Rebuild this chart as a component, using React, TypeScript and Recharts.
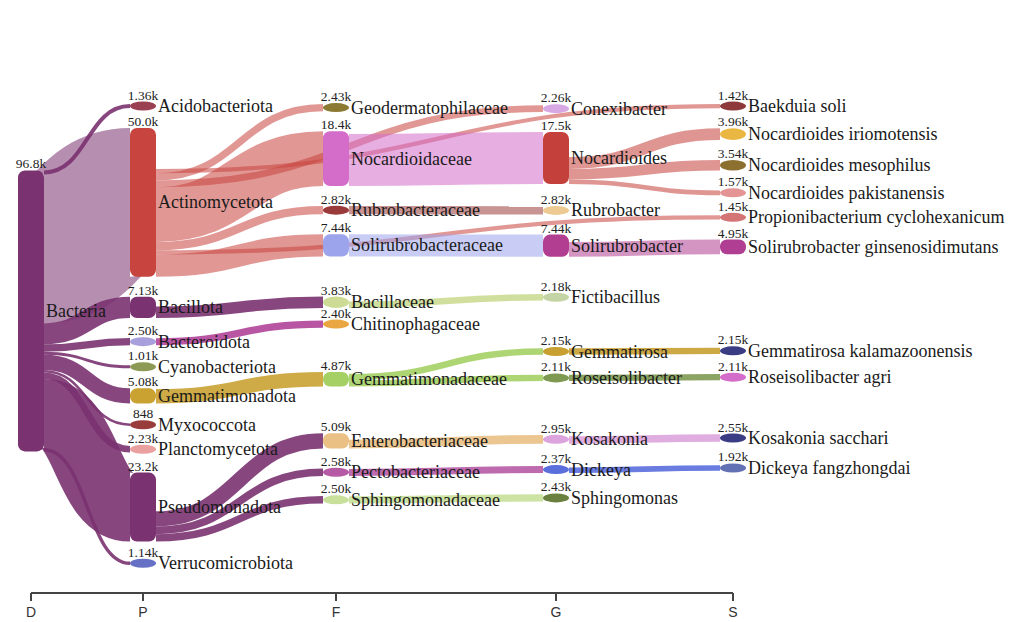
import React from "react";
import { Sankey } from "recharts";

// taxonomy nodes, values in thousands of reads
const nodeNames = [
  "Bacteria",
  "Acidobacteriota", "Actinomycetota", "Bacillota", "Bacteroidota", "Cyanobacteriota",
  "Gemmatimonadota", "Myxococcota", "Planctomycetota", "Pseudomonadota", "Verrucomicrobiota",
  "Geodermatophilaceae", "Nocardioidaceae", "Rubrobacteraceae", "Solirubrobacteraceae", "Bacillaceae",
  "Chitinophagaceae", "Gemmatimonadaceae", "Enterobacteriaceae", "Pectobacteriaceae", "Sphingomonadaceae",
  "Conexibacter", "Nocardioides", "Rubrobacter", "Solirubrobacter", "Fictibacillus",
  "Gemmatirosa", "Roseisolibacter", "Kosakonia", "Dickeya", "Sphingomonas",
  "Baekduia soli", "Nocardioides iriomotensis", "Nocardioides mesophilus", "Nocardioides pakistanensis",
  "Propionibacterium cyclohexanicum", "Solirubrobacter ginsenosidimutans", "Gemmatirosa kalamazoonensis",
  "Roseisolibacter agri", "Kosakonia sacchari", "Dickeya fangzhongdai",
];

const nodeRanks = [
  "D",
  "P", "P", "P", "P", "P", "P", "P", "P", "P", "P",
  "F", "F", "F", "F", "F", "F", "F", "F", "F", "F",
  "G", "G", "G", "G", "G", "G", "G", "G", "G", "G",
  "S", "S", "S", "S", "S", "S", "S", "S", "S", "S",
];

const nodeValues = [
  96.8,
  1.36, 50.0, 7.13, 2.5, 1.01, 5.08, 0.848, 2.23, 23.2, 1.14,
  2.43, 18.4, 2.82, 7.44, 3.83, 2.4, 4.87, 5.09, 2.58, 2.5,
  2.26, 17.5, 2.82, 7.44, 2.18, 2.15, 2.11, 2.95, 2.37, 2.43,
  1.42, 3.96, 3.54, 1.57, 1.45, 4.95, 2.15, 2.11, 2.55, 1.92,
];

// each link carries the value of its target node
const linkSources = [
  0, 0, 0, 0, 0, 0, 0, 0, 0, 0,
  2, 2, 2, 2, 2, 2, 2,
  3, 4, 6, 9, 9, 9,
  12, 13, 14, 15, 17, 17, 18, 19, 20,
  22, 22, 22, 24, 26, 27, 28, 29,
];
const linkTargets = [
  1, 2, 3, 4, 5, 6, 7, 8, 9, 10,
  21, 11, 12, 13, 14, 31, 35,
  15, 16, 17, 18, 19, 20,
  22, 23, 24, 25, 26, 27, 28, 29, 30,
  32, 33, 34, 36, 37, 38, 39, 40,
];

// layout helpers only: invisible hair-thin links that keep some end nodes in their own column,
// and the top-to-bottom reading order of the nodes
const spacerSources = [1, 5, 7, 8, 10, 11, 11, 21, 23];
const spacerTargets = [31, 37, 38, 39, 40, 31, 21, 31, 35];
const stackOrder = [
  31, 21, 1, 32, 11, 33, 22, 34, 12, 35, 2, 23, 13, 24, 36, 14, 25, 15, 3, 0,
  16, 4, 5, 26, 37, 17, 6, 27, 38, 7, 8, 18, 28, 39, 9, 19, 29, 40, 20, 30, 10,
];

const rankLabels = ["D", "P", "F", "G", "S"];

const nodeColors = [
  "#7a3270",
  "#9a4050", "#c8443e", "#7a3270", "#a8a0dc", "#8d9a55", "#c9a232", "#983c3c", "#eba0a0", "#7a3270", "#6670c4",
  "#8c7a32", "#d46cc9", "#9a3a3a", "#9ca4ec", "#ccdc94", "#eaa640", "#a4d064", "#eac084", "#b65aa6", "#c8e09a",
  "#d8a8e4", "#c4403a", "#ecca92", "#b23e92", "#c4d4a4", "#c8a032", "#7e9a52", "#dca4dc", "#5a6edc", "#6a803e",
  "#8e3a3a", "#eab842", "#8c7030", "#e49494", "#d47474", "#b03e92", "#3a3c84", "#d46cc9", "#3a3c84", "#6270b4",
];

const lightSources = ["Actinomycetota", "Nocardioidaceae", "Nocardioides", "Rubrobacteraceae", "Solirubrobacteraceae", "Solirubrobacter"];
const linkColorOverride: Record<string, string> = { Bacteroidota: "#b0449a" };

const COL_X = [18, 130, 323, 543, 720];
const NODE_W = 26;
const TOP = 104;
const INNER_H = 461;
// the layout is computed bottom-up and mirrored, so children spread upward from their parent
const MIRROR = 2 * TOP + INNER_H;
const SERIF = "'Liberation Serif', 'Times New Roman', serif";

const order = [...stackOrder].reverse();
const pos: number[] = [];
order.forEach((nodeIdx, k) => (pos[nodeIdx] = k));

const data = {
  nodes: order.map((i) => ({ name: nodeNames[i], rank: nodeRanks[i], total: nodeValues[i], fill: nodeColors[i] })),
  links: [
    ...linkSources.map((s, i) => ({ source: pos[s], target: pos[linkTargets[i]], value: nodeValues[linkTargets[i]] })),
    ...spacerSources.map((s, i) => ({ source: pos[s], target: pos[spacerTargets[i]], value: 0.0001, spacer: true })),
  ],
};

const fmt = (v: number) => (v >= 1 ? v.toPrecision(3) + "k" : String(Math.round(v * 1000)));
const colOf = (rank: string) => COL_X[rankLabels.indexOf(rank)];

function NodeShape(props: any) {
  const { y: yRaw, height, payload } = props;
  if (!payload) return null;
  const y = MIRROR - yRaw - height;
  const x = colOf(payload.rank);
  const cx = x + NODE_W / 2;
  const cy = y + height / 2;
  const small = height < 14;
  const ry = Math.max(height / 2, 4.5);
  const top = small ? cy - ry : y;
  return (
    <g>
      {small ? (
        <ellipse cx={cx} cy={cy} rx={NODE_W / 2} ry={ry} fill={payload.fill} />
      ) : (
        <rect x={x} y={y} width={NODE_W} height={height} rx={7} ry={7} fill={payload.fill} />
      )}
      <text x={cx} y={top - 2} textAnchor="middle" fontSize={13.5} fill="#222" fontFamily={SERIF}>
        {fmt(payload.total)}
      </text>
      <text x={x + NODE_W + 2} y={cy + 6} fontSize={18} fill="#1a1a1a" fontFamily={SERIF}>
        {payload.name}
      </text>
    </g>
  );
}

function LinkShape(props: any) {
  const { sourceY, targetY, linkWidth, payload } = props;
  if (!payload || payload.spacer) return null;
  const s = payload.source;
  const t = payload.target;
  const x0 = colOf(s.rank) + NODE_W;
  const x1 = colOf(t.rank);
  const xm = (x0 + x1) / 2;
  const y0 = MIRROR - sourceY;
  const y1 = MIRROR - targetY;
  const light = lightSources.includes(s.name) || t.name === "Actinomycetota";
  return (
    <path
      d={`M${x0},${y0}C${xm},${y0} ${xm},${y1} ${x1},${y1}`}
      fill="none"
      stroke={linkColorOverride[s.name] || s.fill}
      strokeOpacity={light ? 0.55 : 0.9}
      strokeWidth={Math.max(linkWidth, 1.5)}
    />
  );
}

function RankAxis() {
  const y = 593;
  const x0 = COL_X[0] + NODE_W / 2;
  const x1 = COL_X[COL_X.length - 1] + NODE_W / 2;
  return (
    <svg width={1030} height={622} style={{ position: "absolute", left: 0, top: 0, pointerEvents: "none" }}>
      <line x1={x0} y1={y} x2={x1} y2={y} stroke="#444" strokeWidth={2} />
      {rankLabels.map((r, i) => (
        <g key={r}>
          <line x1={COL_X[i] + NODE_W / 2} y1={y} x2={COL_X[i] + NODE_W / 2} y2={y + 8} stroke="#444" strokeWidth={2} />
          <text x={COL_X[i] + NODE_W / 2} y={y + 24} textAnchor="middle" fontSize={14} fill="#333" fontFamily="'Liberation Sans', Arial, sans-serif">
            {r}
          </text>
        </g>
      ))}
    </svg>
  );
}

export default function App() {
  return (
    <div style={{ position: "absolute", left: 0, top: 0, width: 1030, height: 622, background: "#fff" }}>
      <Sankey
        width={1030}
        height={622}
        data={data}
        nodeWidth={NODE_W}
        nodePadding={20}
        sort={false}
        iterations={400}
        margin={{ top: TOP, bottom: 622 - TOP - INNER_H, left: 18, right: 285 }}
        node={NodeShape}
        link={LinkShape}
      />
      <RankAxis />
    </div>
  );
}
